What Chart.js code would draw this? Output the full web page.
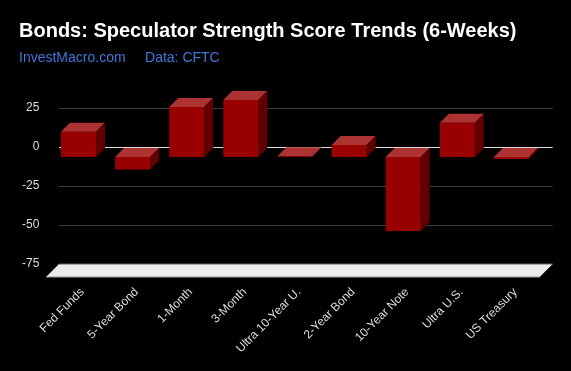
<!DOCTYPE html>
<html>
<head>
<meta charset="utf-8">
<style>html,body{margin:0;padding:0;background:#000}canvas{display:block}</style>
<script src="https://cdn.jsdelivr.net/npm/chart.js@4"></script>
</head>
<body>
<canvas id="c" width="571" height="371"></canvas>
<script>
const categories = ["Fed Funds","5-Year Bond","1-Month","3-Month","Ultra 10-Year U.","2-Year Bond","10-Year Note","Ultra U.S.","US Treasury"];
const scores = [16.2,-8.1,32,36.5,0.5,7.7,-47.4,22,-1.3];
const titleText = "Bonds: Speculator Strength Score Trends (6-Weeks)";
const subtitleText = "InvestMacro.com\u00A0\u00A0\u00A0\u00A0\u00A0Data: CFTC";

const depth = 9, floorDepth = 13, wallX0 = 59, wallX1 = 552.7;
const poly = (ctx, pts, fill) => {
  ctx.beginPath();
  pts.forEach((p,i)=> i ? ctx.lineTo(p[0],p[1]) : ctx.moveTo(p[0],p[1]));
  ctx.closePath(); ctx.fillStyle = fill; ctx.fill();
};
const scene = {
  id:'scene',
  beforeDraw(chart){
    const {ctx,width,height} = chart;
    ctx.save(); ctx.fillStyle='#000'; ctx.fillRect(0,0,width,height); ctx.restore();
  },
  beforeDatasetsDraw(chart){
    const ctx = chart.ctx, y = chart.scales.y;
    ctx.save();
    y.ticks.forEach(t=>{
      if (t.value === -75) return;
      const p = Math.round(y.getPixelForValue(t.value))+0.5;
      ctx.strokeStyle = t.value===0 ? '#dddddd' : '#3c3c3c';
      ctx.lineWidth = 1;
      ctx.beginPath(); ctx.moveTo(wallX0,p); ctx.lineTo(wallX1,p); ctx.stroke();
    });
    const ft = y.getPixelForValue(-75), fb = ft + floorDepth;
    const L = wallX0 - floorDepth, R = wallX1 - floorDepth;
    poly(ctx,[[wallX0,ft],[wallX1,ft],[R,fb],[L,fb]],'#ececec');
    ctx.strokeStyle='#666666'; ctx.lineWidth=1;
    ctx.beginPath(); ctx.moveTo(wallX0,ft); ctx.lineTo(wallX1,ft); ctx.stroke();
    ctx.strokeStyle='#999999';
    ctx.beginPath(); ctx.moveTo(L,fb); ctx.lineTo(R,fb); ctx.stroke();
    chart.getDatasetMeta(0).data.forEach(b=>{
      const x0=b.x-b.width/2, x1=b.x+b.width/2;
      const t=Math.min(b.y,b.base), u=Math.max(b.y,b.base);
      poly(ctx,[[x0,t],[x1,t],[x1+depth,t-depth],[x0+depth,t-depth]],'#ad3333');
      poly(ctx,[[x1,t],[x1+depth,t-depth],[x1+depth,u-depth],[x1,u]],'#600000');
    });
    ctx.restore();
  }
};

new Chart(document.getElementById('c'),{
  type:'bar',
  data:{labels:categories,datasets:[{data:scores,yAxisID:'y2',backgroundColor:'#990000',borderWidth:0,categoryPercentage:1,barPercentage:0.647}]},
  plugins:[scene],
  options:{
    responsive:false,animation:false,devicePixelRatio:1,
    layout:{padding:{left:19,right:32.5,top:0,bottom:0}},
    plugins:{
      legend:{display:false},tooltip:{enabled:false},
      title:{display:true,text:titleText,align:'start',color:'#ffffff',
        font:{family:'"Liberation Sans"',size:20,weight:'bold'},padding:{top:19,bottom:6.6}},
      subtitle:{display:true,text:subtitleText,align:'start',color:'#3f78d8',
        font:{family:'"Liberation Sans"',size:14,weight:'normal'},padding:{top:0,bottom:18.2}}
    },
    scales:{
      x:{grid:{display:false,drawTicks:false},border:{display:false},
        afterFit(s){s.height=107;},
        ticks:{autoSkip:false,minRotation:45,maxRotation:45,padding:21,labelOffset:4,color:'#dddddd',
          font:{family:'"Liberation Sans"',size:12}}},
      y:{min:-75,max:40,grid:{display:false,drawTicks:false},border:{display:false},
        afterFit(s){s.width=32.4;},
        ticks:{stepSize:25,includeBounds:false,padding:12,color:'#dddddd',
          font:{family:'"Liberation Sans"',size:12}}},
      y2:{display:false,min:-68.6,max:46.4}
    }
  }
});
</script>
</body>
</html>
